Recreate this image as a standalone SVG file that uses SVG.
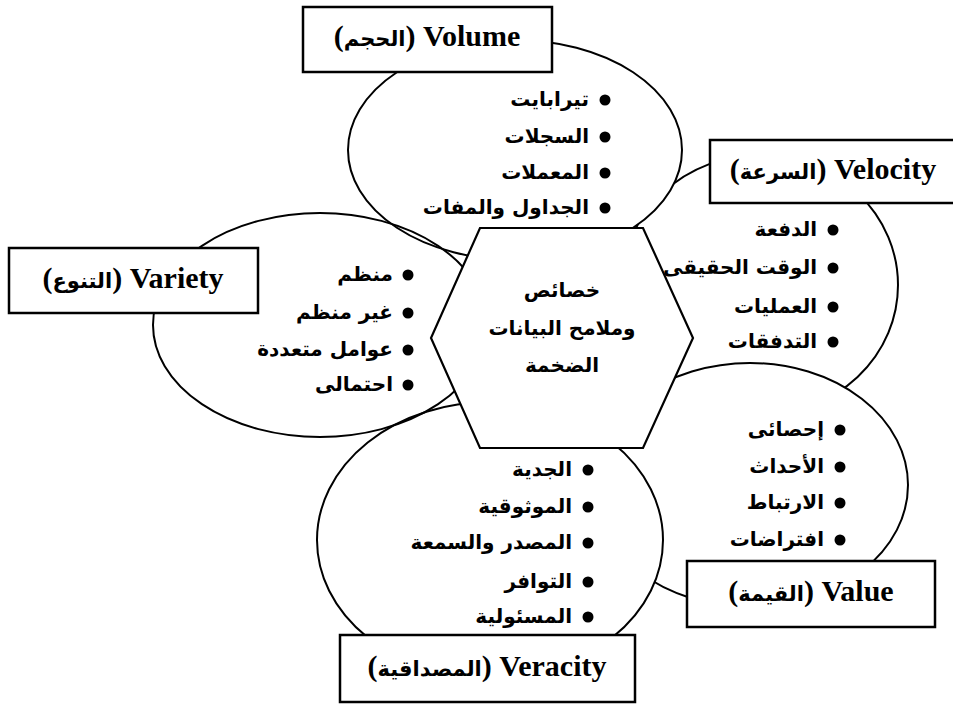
<svg xmlns="http://www.w3.org/2000/svg" width="953" height="704" viewBox="0 0 953 704">
<style>
.bg{fill:#fff}
.ell{stroke:#000;stroke-width:2;fill:#fff}
.ell-open{stroke:#000;stroke-width:2;fill:none}
.box{stroke:#000;stroke-width:2.5;fill:#fff}
.hex{stroke:#000;stroke-width:2.2;fill:#fff}
.title{font-family:"Liberation Serif","DejaVu Sans",serif;font-weight:bold;font-size:30px;fill:#000;text-anchor:middle;direction:rtl}
.ar{font-family:"DejaVu Sans","Liberation Serif",sans-serif;font-size:21px}
.item{font-family:"DejaVu Sans","Liberation Sans",sans-serif;font-weight:bold;font-size:20px;fill:#000;text-anchor:end}
.center{font-family:"DejaVu Sans","Liberation Sans",sans-serif;font-weight:bold;font-size:20px;fill:#000;text-anchor:middle}
.dot{fill:#000}
</style>
<rect class="bg" x="0" y="0" width="953" height="704"/>

<g id="velocity">
  <ellipse class="ell" cx="760" cy="285" rx="138" ry="130"/>
  <rect class="box" x="710" y="140" width="260" height="63"/>
  <text class="title" x="833" y="179">Velocity (<tspan class="ar">السرعة</tspan>)</text>
  <circle class="dot" cx="833" cy="230" r="5.5"/><text class="item" x="817" y="236">الدفعة</text>
  <circle class="dot" cx="833" cy="268" r="5.5"/><text class="item" x="817" y="274">الوقت الحقيقى</text>
  <circle class="dot" cx="833" cy="307" r="5.5"/><text class="item" x="817" y="313">العمليات</text>
  <circle class="dot" cx="833" cy="342" r="5.5"/><text class="item" x="817" y="348">التدفقات</text>
</g>

<g id="value">
  <ellipse class="ell" cx="750" cy="485" rx="158" ry="122"/>
  <rect class="box" x="687" y="561" width="248" height="66"/>
  <text class="title" x="811" y="601">Value (<tspan class="ar">القيمة</tspan>)</text>
  <circle class="dot" cx="840" cy="430" r="5.5"/><text class="item" x="824" y="436">إحصائى</text>
  <circle class="dot" cx="840" cy="467" r="5.5"/><text class="item" x="824" y="473">الأحداث</text>
  <circle class="dot" cx="840" cy="503" r="5.5"/><text class="item" x="824" y="509">الارتباط</text>
  <circle class="dot" cx="840" cy="540" r="5.5"/><text class="item" x="824" y="546">افتراضات</text>
</g>

<g id="veracity">
  <ellipse class="ell" cx="490" cy="540" rx="173" ry="138"/>
  <rect class="box" x="340" y="635" width="295" height="67"/>
  <text class="title" x="487" y="676">Veracity (<tspan class="ar">المصداقية</tspan>)</text>
  <circle class="dot" cx="588" cy="470" r="5.5"/><text class="item" x="572" y="476">الجدية</text>
  <circle class="dot" cx="588" cy="507" r="5.5"/><text class="item" x="572" y="513">الموثوقية</text>
  <circle class="dot" cx="588" cy="543" r="5.5"/><text class="item" x="572" y="549">المصدر والسمعة</text>
  <circle class="dot" cx="588" cy="582" r="5.5"/><text class="item" x="572" y="588">التوافر</text>
  <circle class="dot" cx="588" cy="617" r="5.5"/><text class="item" x="572" y="623">المسئولية</text>
</g>

<g id="volume">
  <ellipse class="ell" cx="515" cy="150" rx="167" ry="110"/>
  <rect class="box" x="303" y="7" width="249" height="65"/>
  <text class="title" x="427" y="46">Volume (<tspan class="ar">الحجم</tspan>)</text>
  <circle class="dot" cx="605" cy="100" r="5.5"/><text class="item" x="589" y="106">تيرابايت</text>
  <circle class="dot" cx="605" cy="137" r="5.5"/><text class="item" x="589" y="143">السجلات</text>
  <circle class="dot" cx="605" cy="173" r="5.5"/><text class="item" x="589" y="179">المعملات</text>
  <circle class="dot" cx="605" cy="208" r="5.5"/><text class="item" x="589" y="214">الجداول والمفات</text>
</g>

<g id="variety">
  <ellipse class="ell-open" cx="320" cy="325" rx="167" ry="112"/>
  <rect class="box" x="9" y="248" width="249" height="65"/>
  <text class="title" x="133" y="288">Variety (<tspan class="ar">التنوع</tspan>)</text>
  <circle class="dot" cx="408" cy="275" r="5.5"/><text class="item" x="393" y="281">منظم</text>
  <circle class="dot" cx="408" cy="313" r="5.5"/><text class="item" x="393" y="319">غير منظم</text>
  <circle class="dot" cx="408" cy="350" r="5.5"/><text class="item" x="393" y="356">عوامل متعددة</text>
  <circle class="dot" cx="408" cy="385" r="5.5"/><text class="item" x="393" y="391">احتمالى</text>
</g>

<g id="center">
  <polygon class="hex" points="480,228 643,228 693,338 643,448 480,448 431,338"/>
  <text class="center" x="562" y="297">خصائص</text>
  <text class="center" x="562" y="335">وملامح البيانات</text>
  <text class="center" x="562" y="372">الضخمة</text>
</g>
</svg>
